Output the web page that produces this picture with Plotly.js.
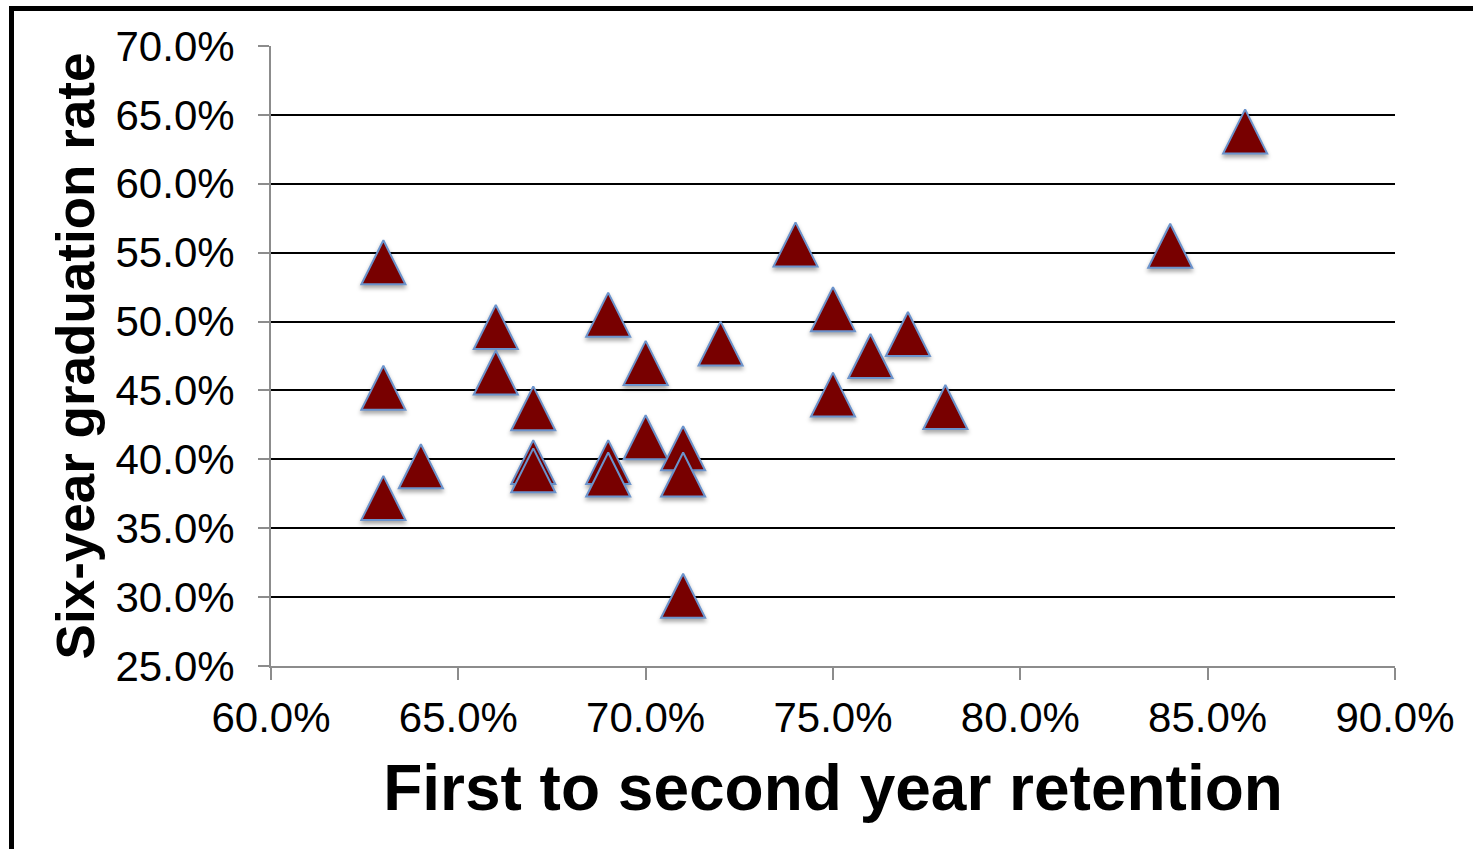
<!DOCTYPE html>
<html>
<head>
<meta charset="utf-8">
<script src="https://cdn.plot.ly/plotly-3.0.1.min.js"></script>
<style>
  html, body { margin: 0; padding: 0; background: #fff; }
  #wrap { position: relative; width: 1473px; height: 849px; overflow: hidden; }
  #chart { position: absolute; left: 0; top: 0; width: 1473px; height: 849px; }
  #frame { position: absolute; left: 9px; top: 6px; width: 1480px; height: 900px;
           border-left: 5px solid #000; border-top: 5px solid #000; pointer-events: none; }
  #chart .scatterlayer .point { filter: drop-shadow(0px 3px 2px rgba(0,0,0,0.35)); }
</style>
</head>
<body>
<div id="wrap">
  <div id="chart"></div>
  <div id="frame"></div>
</div>
<script>
// First to second year retention (%)
const retention = [63, 63, 63, 64, 66, 66, 67, 67, 67, 69, 69, 69, 70, 70, 71, 71, 71, 72, 74, 75, 75, 76, 77, 78, 84, 86];
// Six-year graduation rate (%)
const gradRate  = [54.3, 45.2, 37.2, 39.5, 49.6, 46.3, 43.7, 39.8, 39.2, 50.5, 39.8, 38.9, 47.0, 41.6, 40.8, 38.9, 30.1, 48.4, 55.6, 50.9, 44.7, 47.5, 49.1, 43.8, 55.5, 63.8];

const xTitle = 'First to second year retention';
const yTitle = 'Six-year graduation rate';

const FONT = '"Liberation Sans", Arial, sans-serif';

const trace = {
  type: 'scatter',
  mode: 'markers',
  x: retention,
  y: gradRate,
  marker: {
    symbol: 'arrow-down',
    angle: 180,
    size: 44,
    standoff: 22,
    color: '#780000',
    line: { color: '#6b93cc', width: 2 }
  },
  hoverinfo: 'x+y'
};

const layout = {
  width: 1473,
  height: 849,
  margin: { l: 271, r: 78, t: 46, b: 183 },
  paper_bgcolor: '#ffffff',
  plot_bgcolor: '#ffffff',
  showlegend: false,
  font: { family: FONT, color: '#000' },
  xaxis: {
    range: [60, 90],
    dtick: 5,
    tick0: 60,
    tickformat: '.1f',
    ticksuffix: '%',
    showgrid: false,
    zeroline: false,
    showline: true,
    linecolor: '#8c8c8c',
    linewidth: 2,
    ticks: 'outside',
    ticklen: 12,
    tickwidth: 2,
    tickcolor: '#8c8c8c',
    tickfont: { size: 42, family: FONT, color: '#000' },
    ticklabelstandoff: 2,
    title: { text: xTitle, font: { size: 64, family: FONT, color: '#000', weight: 'bold' }, standoff: 25 },
    fixedrange: true
  },
  yaxis: {
    range: [25, 70],
    dtick: 5,
    tick0: 25,
    tickformat: '.1f',
    ticksuffix: '%',
    showgrid: true,
    gridcolor: '#000000',
    gridwidth: 2,
    zeroline: false,
    showline: true,
    linecolor: '#8c8c8c',
    linewidth: 2,
    ticks: 'outside',
    ticklen: 11,
    tickwidth: 2,
    tickcolor: '#8c8c8c',
    tickfont: { size: 42, family: FONT, color: '#000' },
    ticklabelstandoff: 15,
    title: { text: yTitle, font: { size: 53, family: FONT, color: '#000', weight: 'bold' }, standoff: 4 },
    fixedrange: true
  }
};

Plotly.newPlot('chart', [trace], layout, { displayModeBar: false, staticPlot: true });
</script>
</body>
</html>
